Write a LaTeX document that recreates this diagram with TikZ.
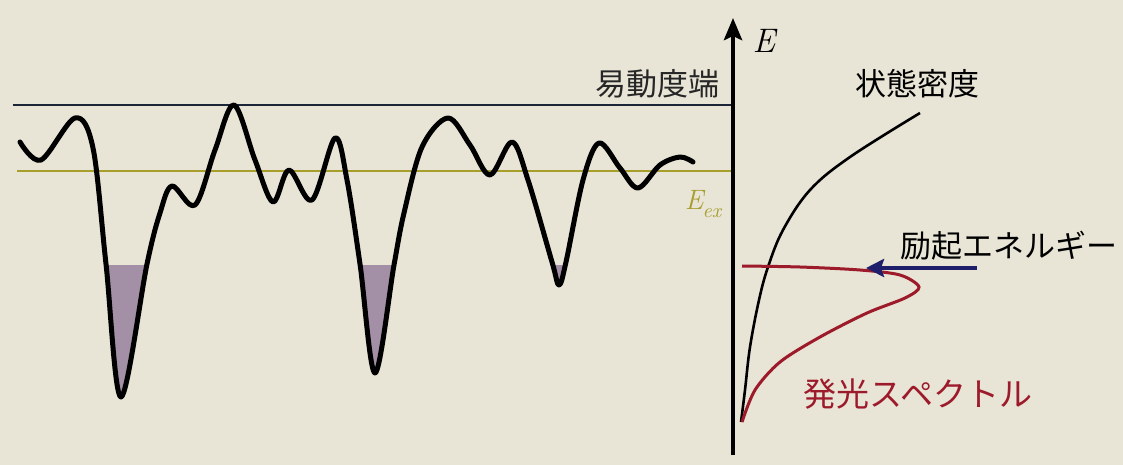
\documentclass[tikz,border=0pt]{standalone}
\usepackage{fontspec}
\newfontfamily\jpfont{Noto Sans CJK JP}
\usetikzlibrary{arrows.meta}
\definecolor{paper}{HTML}{E8E4D6}
\definecolor{edgeblue}{HTML}{1C2438}
\definecolor{exolive}{HTML}{A89E2C}
\definecolor{wellmauve}{HTML}{A38FA6}
\definecolor{plred}{HTML}{9C1A2A}
\definecolor{excblue}{HTML}{1E1E6A}
\tikzset{
  lvl/.style={line width=1pt},
  land/.style={line width=2.5pt, line join=round, line cap=round},
  axis/.style={line width=2.4pt, -{Stealth[length=11pt, width=9pt, inset=2pt]}},
  jlab/.style={font=\jpfont\fontsize{15.5}{17}\selectfont, inner sep=0pt},
  exarr/.style={line width=2pt, draw=excblue, -{Stealth[length=9pt, width=9pt, inset=1.5pt]}},
}
\begin{document}
\begin{tikzpicture}[x=0.5pt, y=-0.5pt]
    \useasboundingbox[fill=paper] (0,0) rectangle (1123,465);
    % levels
    \coordinate (ax0) at (733,455);
    \coordinate (ax1) at (733,18);
    \draw[lvl, edgeblue] (13,105) -- (733,105);
    \draw[lvl, exolive] (17,171) -- (733,171);
    \node[jlab, text=black!85] (mob) at (657,84) {易動度端};
    \node[inner sep=0pt, text=exolive, font=\fontsize{14}{15}\selectfont] (eex) at (703,204)
      {\itshape E\kern-0.5pt\raisebox{-4pt}{\fontsize{10}{11}\selectfont ex}};
    % trapped carriers
    \begin{scope}
      \clip (0,265) rectangle (733,465);
      \fill[wellmauve] plot[smooth, tension=0.55] coordinates {
        (20,142) (41,160) (75,118) (93,148) (106,264) (121,397) (147,264)
        (160,213) (172,186) (195,205) (215,150) (234,105) (255,160) (273,202)
        (289,170) (312,200) (335,138) (347,180) (360,264) (375,373) (394,265)
        (404,213) (422,147) (448,118) (470,145) (490,175) (512,142) (528,180)
        (552,262) (559,285) (566,262) (583,180) (599,143) (620,168) (638,188)
        (660,165) (680,157) (693,162)} -- cycle;
    \end{scope}
    % potential landscape
    \draw[land] plot[smooth, tension=0.55] coordinates {
      (20,142) (41,160) (75,118) (93,148) (106,264) (121,397) (147,264)
      (160,213) (172,186) (195,205) (215,150) (234,105) (255,160) (273,202)
      (289,170) (312,200) (335,138) (347,180) (360,264) (375,373) (394,265)
      (404,213) (422,147) (448,118) (470,145) (490,175) (512,142) (528,180)
      (552,262) (559,285) (566,262) (583,180) (599,143) (620,168) (638,188)
      (660,165) (680,157) (693,162)};
    % energy axis
    \draw[axis] (ax0) -- (ax1);
    \node[inner sep=0pt, font=\fontsize{17}{18}\selectfont\itshape] (E) at (764,41) {E};
    % density of states
    \draw[line width=1.3pt] plot[smooth, tension=0.6] coordinates {
      (741,422) (745,390) (750,347) (759,300) (768,267) (783,230) (810,190)
      (850,157) (920,113)};
    \node[jlab] (dos) at (917,84) {状態密度};
    % emission spectrum
    \draw[plred, line width=1.5pt] plot[smooth, tension=0.5] coordinates {
      (742,266) (800,267) (860,270) (900,275) (919,287) (905,298) (867,313)
      (820,337) (780,362) (755,390) (742,422)};
    \node[jlab, text=plred, font=\jpfont\fontsize{16.5}{18}\selectfont] (pl) at (918,394) {発光スペクトル};
    % excitation
    \node[jlab] (exc) at (1009,246) {励起エネルギー};
    \coordinate (exs) at (977,268);
    \coordinate (ext) at (866,268);
    \draw[exarr] (exs) -- (ext);
\end{tikzpicture}
\end{document}
